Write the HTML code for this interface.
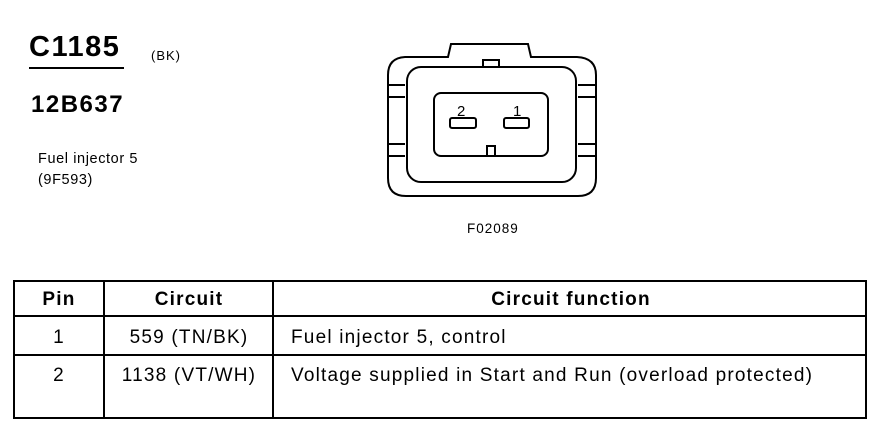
<!DOCTYPE html>
<html><head><style>
body{margin:0;background:#fff;}
svg text{font-family:"Liberation Sans",Arial,sans-serif;fill:#000;}
</style></head><body>
<svg width="882" height="432" xmlns="http://www.w3.org/2000/svg">
<text x="29" y="56" font-size="29" font-weight="bold" letter-spacing="1.5">C1185</text>
<line x1="29" y1="68" x2="124" y2="68" stroke="#000" stroke-width="2"/>
<text x="151" y="60" font-size="13" letter-spacing="1">(BK)</text>
<text x="31" y="112" font-size="24" font-weight="bold" letter-spacing="1.5">12B637</text>
<text x="38" y="163" font-size="14.5" letter-spacing="0.6">Fuel injector 5</text>
<text x="38" y="184" font-size="14.5" letter-spacing="0.6">(9F593)</text>
<g fill="none" stroke="#000" stroke-width="2">
<path d="M388 75 Q388 58 405 57 L448 57 L451 44 L528 44 L531 57 L577 57 Q596 58 596 75 L596 178 Q596 196 578 196 L406 196 Q388 196 388 178 Z"/>
<rect x="407" y="67" width="169" height="115" rx="14"/>
<rect x="434" y="93" width="114" height="63" rx="7"/>
<rect x="450" y="118" width="26" height="10" rx="2"/>
<rect x="504" y="118" width="25" height="10" rx="2"/>
<rect x="483" y="60" width="16" height="7"/>
<rect x="487" y="146" width="8" height="10"/>
<path d="M388 85 L405 85 M388 97 L405 97 M388 144 L405 144 M388 156 L405 156"/>
<path d="M578 85 L596 85 M578 97 L596 97 M578 144 L596 144 M578 156 L596 156"/>
</g>
<text x="457" y="116" font-size="15">2</text>
<text x="513" y="116" font-size="15">1</text>
<text x="467" y="233" font-size="13.5" letter-spacing="1">F02089</text>
<g stroke="#000" stroke-width="2" fill="none">
<rect x="14" y="281" width="852" height="137"/>
<line x1="14" y1="316" x2="866" y2="316"/>
<line x1="14" y1="355" x2="866" y2="355"/>
<line x1="104" y1="281" x2="104" y2="418"/>
<line x1="273" y1="281" x2="273" y2="418"/>
</g>
<g font-size="19" letter-spacing="1.2">
<text x="59" y="305" font-weight="bold" text-anchor="middle">Pin</text>
<text x="189" y="305" font-weight="bold" text-anchor="middle">Circuit</text>
<text x="571" y="305" font-weight="bold" text-anchor="middle">Circuit function</text>
<text x="59" y="343" text-anchor="middle">1</text>
<text x="189" y="343" text-anchor="middle">559 (TN/BK)</text>
<text x="291" y="343">Fuel injector 5, control</text>
<text x="59" y="381" text-anchor="middle">2</text>
<text x="189" y="381" text-anchor="middle">1138 (VT/WH)</text>
<text x="291" y="381">Voltage supplied in Start and Run (overload protected)</text>
</g>
</svg>
</body></html>
